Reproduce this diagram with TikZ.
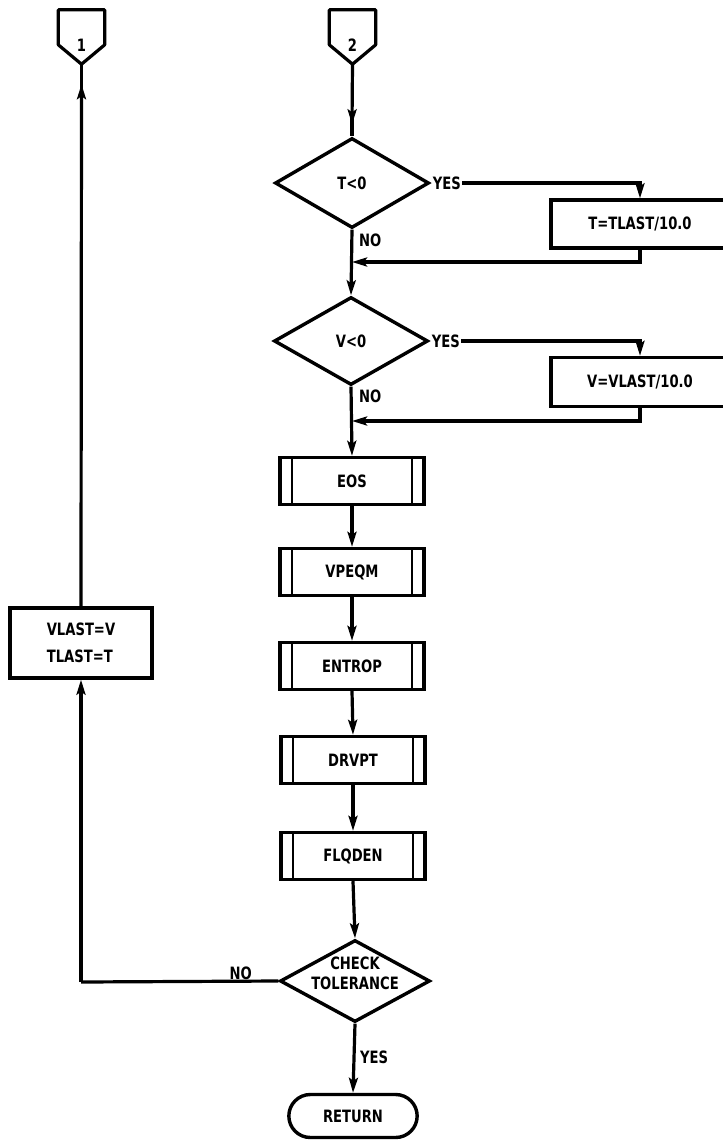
\documentclass[tikz,border=0pt]{standalone}
\usepackage{fontspec}
\setmainfont{DejaVu Sans Condensed}[FakeStretch=0.86]
\usetikzlibrary{shapes.geometric,shapes.misc,arrows.meta}

\tikzset{
  every node/.style={font=\fontsize{17}{20}\selectfont\bfseries},
  line/.style={line width=3.2pt},
  arr/.style={line width=3.2pt,-{Stealth[length=15pt,width=9pt,inset=3pt]}},
  decision/.style={diamond, draw, line width=3.4pt, inner sep=0pt, aspect=1.7},
  procbox/.style={rectangle, draw, line width=3.4pt, inner sep=2pt},
  subbox/.style={rectangle, draw, line width=3.4pt, minimum width=144pt, minimum height=47pt,
    path picture={
      \draw[line width=2.6pt] ([xshift=12pt]path picture bounding box.north west) -- ([xshift=12pt]path picture bounding box.south west);
      \draw[line width=2.6pt] ([xshift=-12pt]path picture bounding box.north east) -- ([xshift=-12pt]path picture bounding box.south east);
    }},
  terminal/.style={rounded rectangle, draw, line width=3.4pt, minimum width=135pt, minimum height=43pt},
  offpage/.style={rectangle, inner sep=0pt, minimum width=46pt, minimum height=54pt, text depth=0pt},
  tag/.style={inner sep=1pt}
}

\begin{document}
\begin{tikzpicture}[x=1pt,y=-1pt]
  \fill[white] (0,0) rectangle (723,1144);
  \useasboundingbox (0,0) rectangle (723,1144);

  % off-page connectors (pentagon outlines drawn below)
  \node[offpage] (c1) at (81.5,37) {};
  \node[offpage] (c2) at (352.5,37) {};
  \foreach \c/\t in {c1/1,c2/2}{
    \draw[line, line join=round] (\c.north west) -- ([yshift=-35pt]\c.north west) -- (\c.south)
      -- ([yshift=-35pt]\c.north east) -- (\c.north east) -- cycle;
    \node at ([yshift=-8pt]\c.center) {\t};
  }

  % decisions
  \node[decision, minimum width=154pt, minimum height=90pt] (d1) at (352,183) {T<0};
  \node[decision, minimum width=154pt, minimum height=88pt] (d2) at (351,341) {V<0};
  \node[decision, minimum width=150pt, minimum height=82pt] (d3) at (355,981) {};
  \node[align=center, inner sep=0pt] (d3t) at ([yshift=8pt]d3.center) {CHECK\\TOLERANCE};

  % assignment boxes on the right
  \node[procbox, minimum width=178pt, minimum height=48pt] (b1) at (640,224) {T=TLAST/10.0\hspace{8pt}};
  \node[procbox, minimum width=178pt, minimum height=49pt] (b2) at (640,382) {V=VLAST/10.0\hspace{8pt}};

  % subroutine calls
  \node[subbox] (s1) at (352,481) {EOS};
  \node[subbox] (s2) at (352,572) {VPEQM};
  \node[subbox] (s3) at (352,666) {ENTROP};
  \node[subbox] (s4) at (353,760) {DRVPT};
  \node[subbox] (s5) at (353,856) {FLQDEN};

  % terminal
  \node[terminal] (ret) at (353,1116) {RETURN};

  % reset box on the left
  \node[procbox, minimum width=142pt, minimum height=70pt, align=left] (lb) at (81,643)
    {VLAST=V\\[7pt]TLAST=T\hspace{14pt}};

  % merge points on the main line
  \coordinate (m1) at (352,262);
  \coordinate (m2) at (352,421);
  \coordinate (k1) at (81,982);

  % labels
  \node[tag, anchor=west] (y1) at ([xshift=1pt]d1.east) {YES};
  \node[tag, anchor=west] (y2) at ([xshift=1pt]d2.east) {YES};
  \node[tag, anchor=west] (n1) at (358,240) {NO};
  \node[tag, anchor=west] (n2) at (358,396) {NO};
  \node[tag, anchor=south east] (n3) at (253,981) {NO};
  \node[tag, anchor=west] (y3) at (359,1057) {YES};

  % flow
  \draw[line] ([yshift=24pt]d1.north) -- (d1.north);
  \draw[arr] (c2.south) -- ([yshift=12pt]d1.north);
  \draw[arr] (y1.east) -| (b1.north);
  \draw[arr] (b1.south) |- (m1);
  \draw[arr] (d1.south) -- (d2.north);
  \draw[arr] (y2.east) -| (b2.north);
  \draw[arr] (b2.south) |- (m2);
  \draw[arr] (d2.south) -- (s1.north);
  \draw[arr] (s1.south) -- (s2.north);
  \draw[arr] (s2.south) -- (s3.north);
  \draw[arr] (s3.south) -- (s4.north);
  \draw[arr] (s4.south) -- (s5.north);
  \draw[arr] (s5.south) -- (d3.north);
  \draw[arr] (d3.south) -- (ret.north);
  \draw[line] (d3.west) -- (k1);
  \draw[arr] (k1) -- (lb.south);
  \draw[line] ([yshift=-32pt]c1.south) -- (c1.south);
  \draw[arr] (lb.north) -- ([yshift=-20pt]c1.south);
\end{tikzpicture}
\end{document}
